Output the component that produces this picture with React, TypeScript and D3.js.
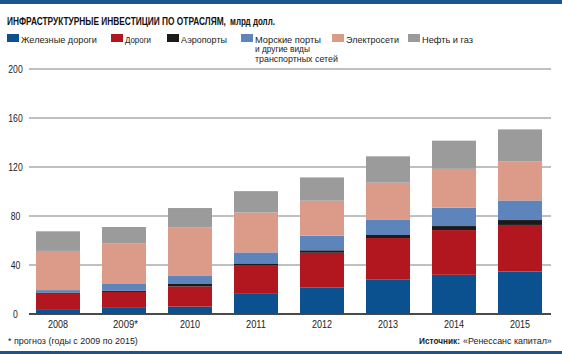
import { useLayoutEffect, useRef, useState } from "react";
import * as d3 from "d3";

const years = ["2008", "2009*", "2010", "2011", "2012", "2013", "2014", "2015"];
const rail = [4, 5, 6, 17, 21.5, 28, 32, 34.7];
const roads = [12.5, 13, 16.5, 23, 28.5, 34, 36.5, 38];
const airports = [1, 1, 2, 1.3, 2, 2.5, 3.3, 4];
const seaPorts = [2, 5.5, 7, 9, 12, 12.7, 15, 16];
const power = [32, 33, 39, 32.5, 28.5, 30, 31.7, 32];
const oilGas = [16, 13.5, 16, 17.5, 19, 21.5, 23, 26];
const yTicks = [0, 40, 80, 120, 160, 200];

const seriesKeys = ["rail", "roads", "airports", "seaPorts", "power", "oilGas"];
const seriesColors = ["#0b5190", "#b2161e", "#1d1a1a", "#5d84bb", "#dc9a88", "#9b9b9b"];

// legend: square x, label lines with their widths
const legendItems = [
  { x: 7, lines: [["Железные дороги", 76]] },
  { x: 111, lines: [["Дороги", 26]] },
  { x: 167, lines: [["Аэропорты", 46]] },
  { x: 241, lines: [["Морские порты", 66], ["и другие виды", 55], ["транспортных сетей", 83]] },
  { x: 332, lines: [["Электросети", 53]] },
  { x: 408, lines: [["Нефть и газ", 51]] },
];

const font = "'Liberation Sans Narrow', 'Arial Narrow', 'Liberation Sans', Arial, sans-serif";

// text squeezed horizontally to a given width (no narrow font installed)
function NarrowText({ x, y, w, children, ...rest }: any) {
  const ref = useRef<SVGTextElement>(null);
  const [k, setK] = useState(1);
  useLayoutEffect(() => {
    if (ref.current) {
      const natural = ref.current.getComputedTextLength();
      if (natural > 0) setK(w / natural);
    }
  }, [w]);
  return (
    <text ref={ref} x={0} y={0} transform={`translate(${x},${y}) scale(${k},1)`} {...rest}>
      {children}
    </text>
  );
}

export default function App() {
  const width = 562;
  const height = 354;

  const rows = years.map((year, i) => ({
    year,
    rail: rail[i],
    roads: roads[i],
    airports: airports[i],
    seaPorts: seaPorts[i],
    power: power[i],
    oilGas: oilGas[i],
  }));

  const stacked = d3.stack<any>().keys(seriesKeys)(rows);

  const x = d3
    .scaleBand()
    .domain(years)
    .range([25, 553])
    .paddingInner(1 / 3)
    .paddingOuter(1 / 6);

  const y = d3.scaleLinear().domain([0, 200]).range([314, 69]);

  return (
    <svg
      width={width}
      height={height}
      style={{ position: "absolute", left: 0, top: 0, background: "#fff" }}
      fontFamily={font}
    >
      <rect x={0} y={0} width={width} height={4} fill="#1a5590" />
      <rect x={0} y={351} width={width} height={3} fill="#1a5590" />

      {/* Title */}
      <NarrowText x={7} y={25} w={219} fontSize={11} fontWeight="bold" fill="#111">
        ИНФРАСТРУКТУРНЫЕ ИНВЕСТИЦИИ ПО ОТРАСЛЯМ,
      </NarrowText>
      <NarrowText x={230} y={25} w={45} fontSize={10} fontWeight="bold" fill="#111">
        млрд долл.
      </NarrowText>

      {/* Legend */}
      {legendItems.map((item, i) => (
        <g key={item.x}>
          <rect x={item.x} y={34} width={12} height={8} fill={seriesColors[i]} />
          {item.lines.map(([line, w], j) => (
            <NarrowText
              key={line as string}
              x={item.x + 14}
              y={42.5 + j * 9.5}
              w={w}
              fontSize={9.5}
              fill="#222"
            >
              {line}
            </NarrowText>
          ))}
        </g>
      ))}

      {/* Grid */}
      {yTicks.map((t) => (
        <g key={t}>
          <line
            x1={29}
            x2={551}
            y1={y(t)}
            y2={y(t)}
            stroke={t === 0 ? "#4a4a4a" : "#ababab"}
            strokeWidth={t === 0 ? 1.8 : 1.3}
          />
          <text
            x={15.5}
            y={y(t) + 3.5}
            fontSize={10}
            fill="#222"
            textAnchor="middle"
            textLength={String(t).length * 4.8}
            lengthAdjust="spacingAndGlyphs"
          >
            {t}
          </text>
        </g>
      ))}

      {/* Bars */}
      {stacked.map((layer, li) => (
        <g key={layer.key} fill={seriesColors[li]}>
          {layer.map((d) => (
            <rect
              key={d.data.year}
              x={x(d.data.year)}
              y={y(d[1])}
              width={x.bandwidth()}
              height={y(d[0]) - y(d[1])}
            />
          ))}
        </g>
      ))}

      {/* X labels */}
      {years.map((yr) => (
        <text
          key={yr}
          x={(x(yr) || 0) + x.bandwidth() / 2 + (yr.endsWith("*") ? 1.5 : 0)}
          y={328}
          fontSize={10.5}
          textAnchor="middle"
          fill="#222"
          textLength={yr.length * 5}
          lengthAdjust="spacingAndGlyphs"
        >
          {yr}
        </text>
      ))}

      {/* Footer */}
      <NarrowText x={8} y={344} w={130} fontSize={9.5} fill="#222">
        * прогноз (годы с 2009 по 2015)
      </NarrowText>
      <NarrowText x={419} y={344} w={41} fontSize={9.5} fontWeight="bold" fill="#222">
        Источник:
      </NarrowText>
      <NarrowText x={463} y={344} w={89} fontSize={9.5} fill="#222">
        «Ренессанс капитал»
      </NarrowText>
    </svg>
  );
}
